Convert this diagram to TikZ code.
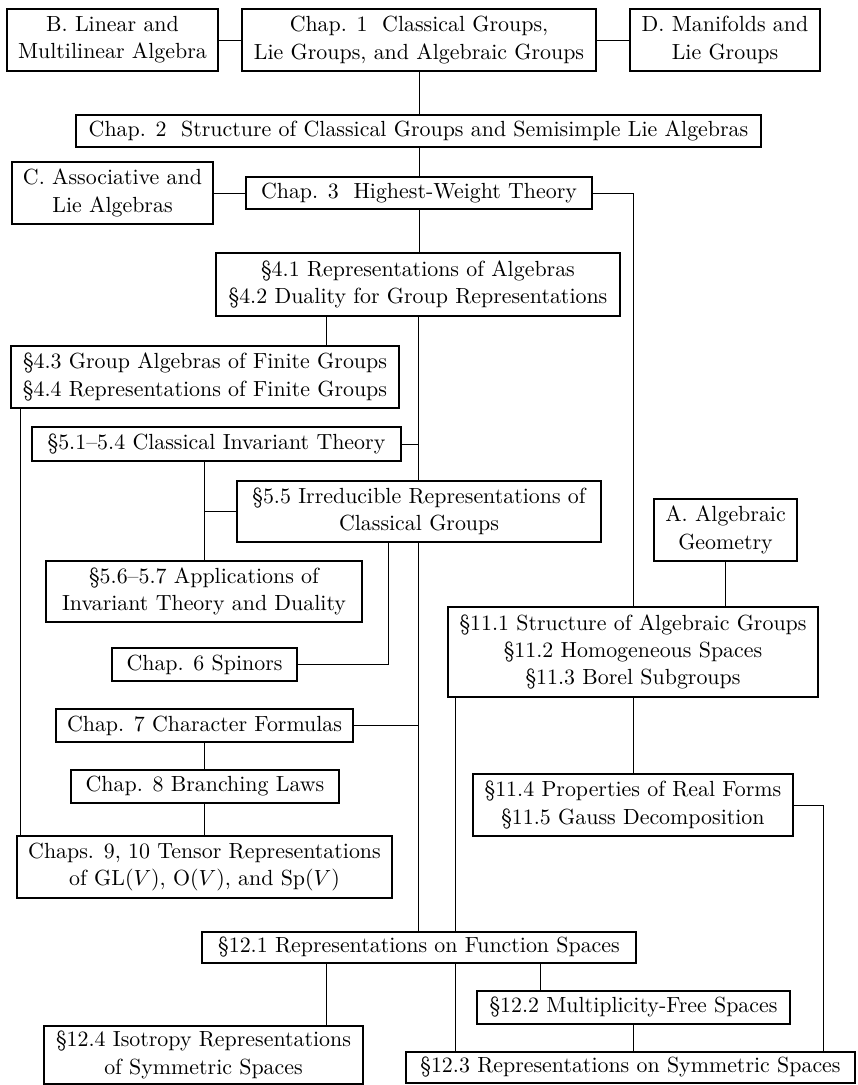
\documentclass[tikz,border=0pt]{standalone}
\usetikzlibrary{backgrounds}
\begin{document}
\begin{tikzpicture}[x=0.5pt,y=-0.5pt,
  box/.style={draw, line width=1.3pt, fill=white, inner sep=0pt, align=center,
    font=\fontsize{10.95}{13.6}\selectfont},
  link/.style={line width=0.5pt, black!85}]
\useasboundingbox (0,0) rectangle (857,1085);
% nodes
\node[box, minimum width=105.5pt, minimum height=31pt] (B) at (112.5,40) {B. Linear and\\Multilinear Algebra};
\node[box, minimum width=177pt, minimum height=31pt] (Ch1) at (419,40) {Chap. 1\ \ Classical Groups,\\Lie Groups, and Algebraic Groups};
\node[box, minimum width=95pt, minimum height=31pt] (D) at (725,40) {D. Manifolds and\\Lie Groups};
\node[box, minimum width=342.5pt, minimum height=16pt] (Ch2) at (418.5,131) {Chap. 2\ \ Structure of Classical Groups and Semisimple Lie Algebras};
\node[box, minimum width=100.5pt, minimum height=31pt] (C) at (112.5,193) {C. Associative and\\Lie Algebras};
\node[box, minimum width=173pt, minimum height=16pt] (Ch3) at (419,193) {Chap. 3\ \ Highest-Weight Theory};
\node[box, minimum width=202pt, minimum height=31.5pt] (S41) at (418,284.5) {§4.1 Representations of Algebras\\§4.2 Duality for Group Representations};
\node[box, minimum width=194pt, minimum height=31pt] (S43) at (205,377) {§4.3 Group Algebras of Finite Groups\\§4.4 Representations of Finite Groups};
\node[box, minimum width=184.5pt, minimum height=17pt] (S51) at (216.5,444) {§5.1–5.4 Classical Invariant Theory};
\node[box, minimum width=182pt, minimum height=30.5pt] (S55) at (419,511.5) {§5.5 Irreducible Representations of\\Classical Groups};
\node[box, minimum width=158pt, minimum height=30.5pt] (S56) at (204,591.5) {§5.6–5.7 Applications of\\Invariant Theory and Duality};
\node[box, minimum width=92.5pt, minimum height=16.5pt] (Ch6) at (204.5,664.5) {Chap. 6 Spinors};
\node[box, minimum width=148.5pt, minimum height=16.5pt] (Ch7) at (204.5,725.5) {Chap. 7 Character Formulas};
\node[box, minimum width=134pt, minimum height=16.5pt] (Ch8) at (205,786.5) {Chap. 8 Branching Laws};
\node[box, minimum width=187.5pt, minimum height=31pt] (Ch9) at (204.5,867) {Chaps. 9, 10 Tensor Representations\\of $\mathrm{GL}(V)$, $\mathrm{O}(V)$, and $\mathrm{Sp}(V)$};
\node[box, minimum width=71.5pt, minimum height=31pt] (A) at (725.5,530) {A. Algebraic\\Geometry};
\node[box, minimum width=185pt, minimum height=45pt] (S111) at (633,652) {§11.1 Structure of Algebraic Groups\\§11.2 Homogeneous Spaces\\§11.3 Borel Subgroups};
\node[box, minimum width=160pt, minimum height=31pt] (S114) at (633,805) {§11.4 Properties of Real Forms\\§11.5 Gauss Decomposition};
\node[box, minimum width=217pt, minimum height=15.5pt] (S121) at (419,947.5) {§12.1 Representations on Function Spaces};
\node[box, minimum width=156.5pt, minimum height=16.5pt] (S122) at (633.5,1007.5) {§12.2 Multiplicity-Free Spaces};
\node[box, minimum width=159.5pt, minimum height=29pt] (S124) at (203.5,1055) {§12.4 Isotropy Representations\\of Symmetric Spaces};
\node[box, minimum width=224.5pt, minimum height=15.5pt] (S123) at (630.5,1067.5) {§12.3 Representations on Symmetric Spaces};
% helper columns
\coordinate (xL) at (20,0);
\coordinate (xa) at (326,0);
\coordinate (xb) at (388,0);
\coordinate (xc) at (455,0);
\coordinate (xd) at (540,0);
\coordinate (xe) at (823,0);
% connectors
\begin{scope}[on background layer, link]
\draw (B.east) -- (Ch1.west);
\draw (Ch1.east) -- (D.west);
\draw (Ch1.south) -- (Ch1.south |- Ch2.north);
\draw (Ch2.south -| Ch3.south) -- (Ch3.north);
\draw (C.east) -- (C.east -| Ch3.west);
\draw (Ch3.south) -- (Ch3.south |- S41.north);
\draw (Ch3.east) -| (S111.north);
\draw (S41.south -| xa) -- (S43.north -| xa);
\draw (S41.south) -- (S41.south |- S121.north);
\draw (S43.south -| xL) -- (Ch9.north -| xL);
\draw (S51.east) -- (S51.east -| S41.south);
\draw (S51.south -| S56.north) -- (S56.north);
\draw (S55.west) -| (S56.north);
\draw (S55.south -| xb) |- (Ch6.east);
\draw (Ch7.east) -- (Ch7.east -| S41.south);
\draw (Ch7.south) -- (Ch7.south |- Ch8.north);
\draw (Ch8.south -| Ch9.north) -- (Ch9.north);
\draw (A.south) -- (A.south |- S111.north);
\draw (S111.south) -- (S114.north);
\draw (S111.south -| xc) -- (S123.north -| xc);
\draw (S114.east) -| (S123.north -| xe);
\draw (S121.south -| xa) -- (S124.north -| xa);
\draw (S121.south -| xd) -- (S122.north -| xd);
\draw (S122.south) -- (S122.south |- S123.north);
\end{scope}
\end{tikzpicture}
\end{document}
